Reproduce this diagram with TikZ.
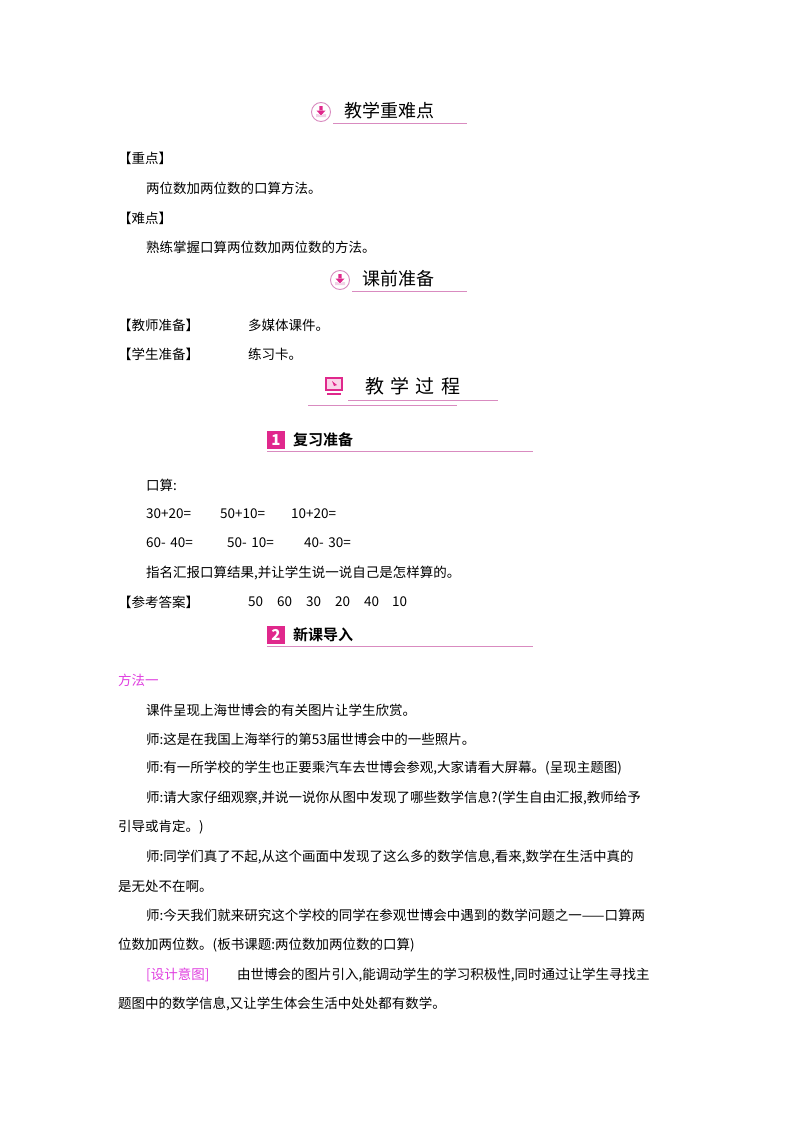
\documentclass[tikz,border=0pt]{standalone}
\usepackage{fontspec}
\setmainfont{Noto Sans CJK SC}
\newfontfamily\cjkb{Noto Sans CJK SC Bold}
\definecolor{pk}{HTML}{E0288C}
\definecolor{pl}{HTML}{D98BC0}
\definecolor{mg}{HTML}{E040E0}
\begin{document}
\begin{tikzpicture}[x=1pt,y=-1pt,
  t/.style={anchor=west,inner sep=0,font=\fontsize{13.5}{14}\selectfont},
  h/.style={anchor=west,inner sep=0,font=\fontsize{18}{19}\selectfont},
  hb/.style={anchor=west,inner sep=0,font=\cjkb\fontsize{15}{16}\selectfont},
  ul/.style={pl,line width=1pt},
  dn/.pic={
    \draw[pl,line width=0.9pt,fill=white] (0,0) circle (9.5);
    \fill[pl!40] (-5,2) -- (-5,5) -- (5,5) -- (5,2) -- (3,2) -- (0,4) -- (-3,2) -- cycle;
    \fill[pk] (-1.6,-6) rectangle (1.6,-1) (-4.5,-1.5) -- (4.5,-1.5) -- (0,3.5) -- cycle;
  }]
\useasboundingbox[fill=white] (0,0) rectangle (800,1132);
% heading 1
\pic at (321,112) {dn};
\node[h] (h1) at (344,111) {教学重难点};
\draw[ul] (333,123) -- (467,123);
\node[t] (a1) at (118,158) {【重点】};
\node[t] (a2) at (146,188) {两位数加两位数的口算方法。};
\node[t] (a3) at (118,218) {【难点】};
\node[t] (a4) at (146,247) {熟练掌握口算两位数加两位数的方法。};
% heading 2
\pic at (340,280) {dn};
\node[h] (h2) at (362,279) {课前准备};
\draw[ul] (352,291) -- (467,291);
\node[t] (b1) at (118,325) {【教师准备】};
\node[t] (b2) at (248,325) {多媒体课件。};
\node[t] (b3) at (118,354) {【学生准备】};
\node[t] (b4) at (248,354) {练习卡。};
% heading 3
\node[draw=pk,fill=pk!20,line width=2pt,minimum width=16pt,minimum height=12pt,inner sep=0] (i3) at (334,384) {};
\fill[pk] (332,381) -- (337,385) -- (334,386) -- cycle;
\draw[pk,line width=2pt] (327,394) -- (341,394);
\node[h,font=\fontsize{19}{20}\selectfont] (h3) at (365,386) {教\,\,学\,\,过\,\,程};
\draw[ul] (348,400) -- (498,400);
\draw[ul] (308,405) -- (457,405);
% heading 4
\node[fill=pk,minimum width=18pt,minimum height=18pt,inner sep=0,text=white,font=\bfseries\itshape\fontsize{15}{15}\selectfont] (n1) at (276,440) {1};
\node[hb] (h4) at (293,440) {复习准备};
\draw[ul] (267,451) -- (533,451);
\node[t] (c1) at (146,485) {口算:};
\node[t] (c2) at (146,514) {30+20=};
\node[t] (c3) at (220,514) {50+10=};
\node[t] (c4) at (291,514) {10+20=};
\node[t] (c5) at (146,543) {60-\,\,40=};
\node[t] (c6) at (227,543) {50-\,\,10=};
\node[t] (c7) at (304,543) {40-\,\,30=};
\node[t] (c8) at (146,573) {指名汇报口算结果,并让学生说一说自己是怎样算的。};
\node[t] (c9) at (118,602) {【参考答案】};
\foreach \v/\x in {50/248,60/277,30/306,20/335,40/364,10/392}
  \node[t] (ans\v) at (\x,602) {\v};
% heading 5
\node[fill=pk,minimum width=18pt,minimum height=18pt,inner sep=0,text=white,font=\bfseries\itshape\fontsize{15}{15}\selectfont] (n2) at (276,635) {2};
\node[hb] (h5) at (293,635) {新课导入};
\draw[ul] (267,646) -- (533,646);
\node[t,mg] (d0) at (118,680) {方法一};
\node[t] (d1) at (146,710) {课件呈现上海世博会的有关图片让学生欣赏。};
\node[t] (d2) at (146,739) {师:这是在我国上海举行的第53届世博会中的一些照片。};
\node[t] (d3) at (146,768) {师:有一所学校的学生也正要乘汽车去世博会参观,大家请看大屏幕。(呈现主题图)};
\node[t] (d4) at (146,798) {师:请大家仔细观察,并说一说你从图中发现了哪些数学信息?(学生自由汇报,教师给予};
\node[t] (d5) at (118,827) {引导或肯定。)};
\node[t] (d6) at (146,857) {师:同学们真了不起,从这个画面中发现了这么多的数学信息,看来,数学在生活中真的};
\node[t] (d7) at (118,886) {是无处不在啊。};
\node[t] (d8) at (146,915) {师:今天我们就来研究这个学校的同学在参观世博会中遇到的数学问题之一——口算两};
\node[t] (d9) at (118,945) {位数加两位数。(板书课题:两位数加两位数的口算)};
\node[t,mg] (e0) at (146,975) {[设计意图]};
\node[t] (e1) at (237,975) {由世博会的图片引入,能调动学生的学习积极性,同时通过让学生寻找主};
\node[t] (e2) at (118,1004) {题图中的数学信息,又让学生体会生活中处处都有数学。};
\end{tikzpicture}
\end{document}
